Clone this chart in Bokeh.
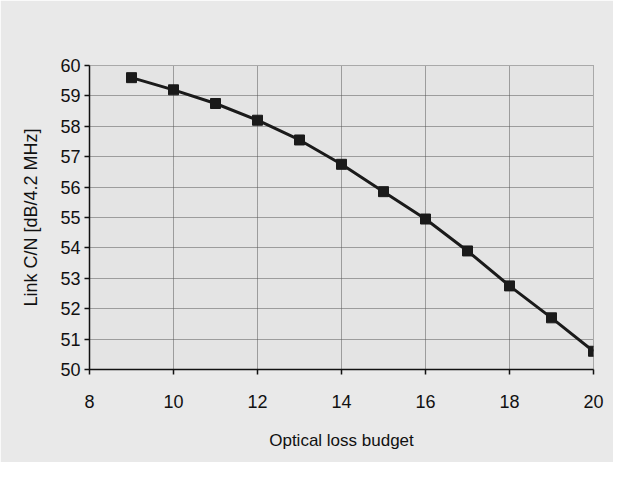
from bokeh.plotting import figure
from bokeh.embed import file_html
from bokeh.resources import INLINE
from bokeh.models import Range1d, FixedTicker

loss_budget = [9, 10, 11, 12, 13, 14, 15, 16, 17, 18, 19, 20]
link_cn = [59.6, 59.2, 58.75, 58.2, 57.55, 56.75, 55.85, 54.95, 53.9, 52.75, 51.7, 50.6]
x_ticks = [8, 10, 12, 14, 16, 18, 20]
y_ticks = [50, 51, 52, 53, 54, 55, 56, 57, 58, 59, 60]

p = figure(width=613, height=462, output_backend="svg", toolbar_location=None,
           x_range=Range1d(8, 20), y_range=Range1d(50, 60),
           min_border_left=89, min_border_right=20, min_border_top=65, min_border_bottom=93)

p.background_fill_color = "#e4e4e4"
p.border_fill_color = "#e9e9e9"
p.outline_line_color = "#666666"
p.outline_line_dash = "1 1"
p.outline_line_width = 1

p.xaxis.ticker = FixedTicker(ticks=x_ticks)
p.yaxis.ticker = FixedTicker(ticks=y_ticks)

for g in (p.xgrid, p.ygrid):
    g.grid_line_color = "#555555"
    g.grid_line_dash = "1 1"
    g.grid_line_width = 1

for ax in (p.xaxis, p.yaxis):
    ax.axis_line_color = "#111111"
    ax.axis_line_width = 1.5
    ax.major_tick_line_color = "#111111"
    ax.major_tick_line_width = 1.5
    ax.major_tick_out = 5
    ax.major_tick_in = 0
    ax.minor_tick_line_color = None
    ax.major_label_text_font = "Liberation Sans"
    ax.major_label_text_font_size = "18px"
    ax.major_label_text_color = "#111111"
    ax.axis_label_text_font = "Liberation Sans"
    ax.axis_label_text_font_style = "normal"
    ax.axis_label_text_color = "#111111"

p.xaxis.axis_label = "Optical loss budget"
p.yaxis.axis_label = "Link C/N [dB/4.2 MHz]"
p.xaxis.axis_label_text_font_size = "17px"
p.yaxis.axis_label_text_font_size = "18px"
p.xaxis.major_label_standoff = 20
p.yaxis.major_label_standoff = 4
p.xaxis.axis_label_standoff = 20
p.yaxis.axis_label_standoff = 16

p.line(loss_budget, link_cn, line_color="#1a1a1a", line_width=3)
p.scatter(loss_budget, link_cn, marker="square", size=10, fill_color="#1a1a1a", line_color="#1a1a1a")

open("out.html", "w").write(file_html(p, INLINE))
